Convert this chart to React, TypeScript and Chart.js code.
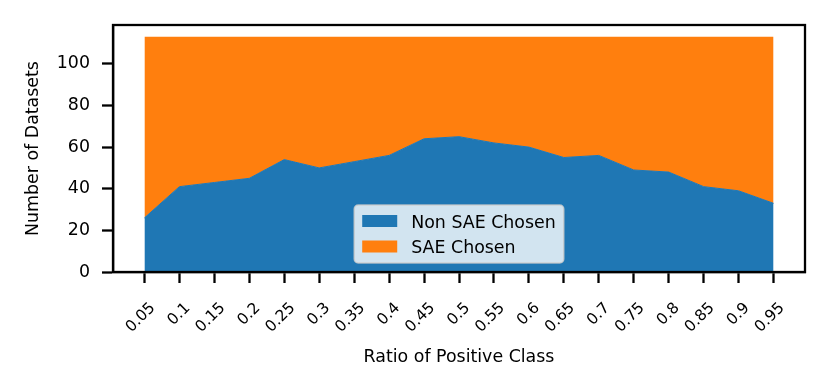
import React, { useEffect, useRef } from 'react';
import { Chart, registerables } from 'chart.js';

Chart.register(...registerables);

const ratios = [0.05, 0.1, 0.15, 0.2, 0.25, 0.3, 0.35, 0.4, 0.45, 0.5, 0.55, 0.6, 0.65, 0.7, 0.75, 0.8, 0.85, 0.9, 0.95];
const tickLabels = ['0.05', '0.1', '0.15', '0.2', '0.25', '0.3', '0.35', '0.4', '0.45', '0.5', '0.55', '0.6', '0.65', '0.7', '0.75', '0.8', '0.85', '0.9', '0.95'];
const nonSaeChosen = [26, 41, 43, 45, 54, 50, 53, 56, 64, 65, 62, 60, 55, 56, 49, 48, 41, 39, 33];
const saeChosen = [87, 72, 70, 68, 59, 63, 60, 57, 49, 48, 51, 53, 58, 57, 64, 65, 72, 74, 80];
const yTicks = [0, 20, 40, 60, 80, 100];
const seriesLabels = ['Non SAE Chosen', 'SAE Chosen'];

const BLUE = '#1f77b4';
const ORANGE = '#ff7f0e';
const FONT = "'DejaVu Sans'";
const FS = 17.4;
const LINE_W = 2.3;

const framePlugin = {
  id: 'frame',
  afterDraw(chart: any) {
    const { ctx, chartArea: ca } = chart;
    ctx.save();
    ctx.strokeStyle = '#000';
    ctx.lineWidth = LINE_W;
    ctx.strokeRect(ca.left, ca.top, ca.right - ca.left, ca.bottom - ca.top);
    ctx.restore();
  },
};

const legendPlugin = {
  id: 'innerLegend',
  afterDraw(chart: any) {
    const { ctx, chartArea: ca } = chart;
    const ds = chart.data.datasets;
    ctx.save();
    ctx.font = `${FS}px ${FONT}`;
    const textW = Math.max(...ds.map((d: any) => ctx.measureText(d.label).width));
    const pad = 8;
    const handleW = 35;
    const handleH = 12;
    const gap = 14;
    const rowH = 25.5;
    const w = pad + handleW + gap + textW + pad;
    const h = 58;
    const x0 = (ca.left + ca.right) / 2 - w / 2;
    const y0 = ca.bottom - 9 - h;
    const r = 4;
    ctx.beginPath();
    ctx.moveTo(x0 + r, y0);
    ctx.lineTo(x0 + w - r, y0);
    ctx.arcTo(x0 + w, y0, x0 + w, y0 + r, r);
    ctx.lineTo(x0 + w, y0 + h - r);
    ctx.arcTo(x0 + w, y0 + h, x0 + w - r, y0 + h, r);
    ctx.lineTo(x0 + r, y0 + h);
    ctx.arcTo(x0, y0 + h, x0, y0 + h - r, r);
    ctx.lineTo(x0, y0 + r);
    ctx.arcTo(x0, y0, x0 + r, y0, r);
    ctx.closePath();
    ctx.fillStyle = 'rgba(255,255,255,0.8)';
    ctx.fill();
    ctx.strokeStyle = 'rgba(204,204,204,0.8)';
    ctx.lineWidth = 1.5;
    ctx.stroke();
    ds.forEach((d: any, i: number) => {
      const cy = y0 + 16 + i * rowH;
      ctx.fillStyle = d.backgroundColor;
      ctx.fillRect(x0 + pad, cy - handleH / 2, handleW, handleH);
      ctx.fillStyle = '#000';
      ctx.textBaseline = 'alphabetic';
      ctx.textAlign = 'left';
      ctx.fillText(d.label, x0 + pad + handleW + gap, cy + 6.5);
    });
    ctx.restore();
  },
};

export default function App() {
  const ref = useRef<HTMLCanvasElement | null>(null);

  useEffect(() => {
    document.body.style.margin = '0';
    const canvas = ref.current;
    if (!canvas) return;
    Chart.defaults.font.family = FONT;
    Chart.defaults.color = '#000';
    const chart = new Chart(canvas, {
      type: 'line',
      data: {
        datasets: [
          {
            label: seriesLabels[0],
            data: ratios.map((x, i) => ({ x, y: nonSaeChosen[i] })),
            backgroundColor: BLUE,
            borderColor: BLUE,
            borderWidth: 1,
            fill: 'origin',
            pointRadius: 0,
            pointHoverRadius: 0,
            tension: 0,
          },
          {
            label: seriesLabels[1],
            data: ratios.map((x, i) => ({ x, y: saeChosen[i] })),
            backgroundColor: ORANGE,
            borderColor: 'rgba(0,0,0,0)',
            borderWidth: 0,
            fill: '-1',
            pointRadius: 0,
            pointHoverRadius: 0,
            tension: 0,
          },
        ],
      },
      options: {
        responsive: false,
        animation: false,
        devicePixelRatio: 1,
        events: [],
        layout: { padding: { top: 25, right: 25, left: 0, bottom: 0 } },
        plugins: {
          legend: { display: false },
          tooltip: { enabled: false },
        },
        scales: {
          x: {
            type: 'linear',
            min: 0.005,
            max: 0.995,
            afterBuildTicks: (scale: any) => {
              scale.ticks = ratios.map((v) => ({ value: v }));
            },
            afterFit: (scale: any) => {
              scale.height = 120;
              scale.paddingLeft = 0;
              scale.paddingRight = 0;
            },
            grid: {
              display: true,
              drawOnChartArea: false,
              drawTicks: true,
              tickLength: 11,
              tickWidth: LINE_W,
              tickColor: '#000',
            },
            border: { display: true, color: '#000', width: LINE_W },
            ticks: {
              autoSkip: false,
              maxRotation: 45,
              minRotation: 45,
              padding: 16,
              labelOffset: 8.5,
              font: { size: 15.5, family: FONT },
              color: '#000',
              callback: (_v: any, i: number) => tickLabels[i],
            },
            title: {
              display: true,
              text: 'Ratio of Positive Class',
              font: { size: FS, family: FONT },
              color: '#000',
              padding: { top: 0, bottom: 24.5 },
            },
          },
          y: {
            type: 'linear',
            stacked: true,
            min: 0,
            max: 118.65,
            afterBuildTicks: (scale: any) => {
              scale.ticks = yTicks.map((v) => ({ value: v }));
            },
            afterFit: (scale: any) => {
              scale.width = 113;
            },
            grid: {
              display: true,
              drawOnChartArea: false,
              drawTicks: true,
              tickLength: 11,
              tickWidth: LINE_W,
              tickColor: '#000',
            },
            border: { display: true, color: '#000', width: LINE_W },
            ticks: {
              padding: 12,
              font: { size: FS, family: FONT },
              color: '#000',
              callback: (v: any) => String(v),
            },
            title: {
              display: true,
              text: 'Number of Datasets',
              font: { size: FS, family: FONT },
              color: '#000',
              padding: { top: 22.7, bottom: 0 },
            },
          },
        },
      } as any,
      plugins: [framePlugin, legendPlugin],
    });
    return () => chart.destroy();
  }, []);

  return (
    <div style={{ width: 830, height: 392, background: '#fff' }}>
      <canvas ref={ref} width={830} height={392} style={{ display: 'block', width: 830, height: 392 }} />
    </div>
  );
}
